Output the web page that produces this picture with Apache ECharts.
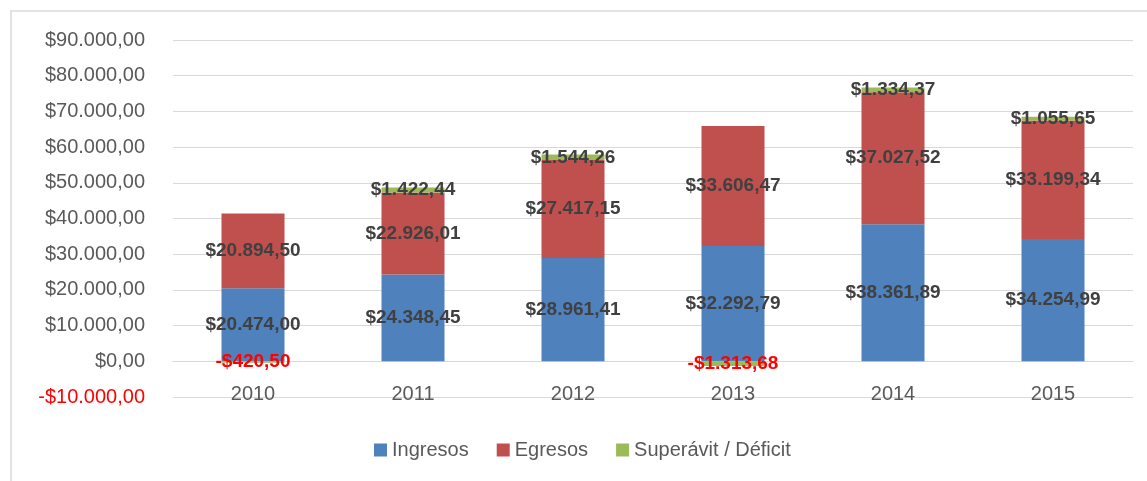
<!DOCTYPE html>
<html>
<head>
<meta charset="utf-8">
<script src="https://cdn.jsdelivr.net/npm/echarts@6/dist/echarts.min.js"></script>
<style>
  html, body { margin: 0; padding: 0; background: #fff; }
  #chart { width: 1147px; height: 481px; }
</style>
</head>
<body>
<div id="chart"></div>
<script>
var years = ['2010', '2011', '2012', '2013', '2014', '2015']
var ingresos = [20474.00, 24348.45, 28961.41, 32292.79, 38361.89, 34254.99]
var egresos = [20894.50, 22926.01, 27417.15, 33606.47, 37027.52, 33199.34]
var superavit = [-420.50, 1422.44, 1544.26, -1313.68, 1334.37, 1055.65]

var FONT = 'Liberation Sans'

// formato $12.345,67
function fmt(v){
    var neg = v < 0
    var parts = Math.abs(v).toFixed(2).split('.')
    var ent = parts[0].replace(/\B(?=(\d{3})+(?!\d))/g, '.')
    return (neg ? '-' : '') + '$' + ent + ',' + parts[1]
}

var labelStyle = {
    show: true,
    position: 'inside',
    color: '#404040',
    fontWeight: 'bold',
    fontSize: 19,
    fontFamily: FONT,
    formatter: (p) => fmt(p.value)
}

var supData = superavit.map((v) => {
    return {
        value: v,
        label: { color: v < 0 ? '#ff0000' : '#404040' }
    }
})

var mychart = echarts.init(document.getElementById('chart'))
mychart.setOption({
    animation: false,
    textStyle: { fontFamily: FONT },
    graphic: [{
        type: 'rect',
        shape: { x: 11, y: 11, width: 1300, height: 600 },
        style: { fill: 'none', stroke: '#d9d9d9', lineWidth: 1.5 }
    }],
    grid: { left: 173, right: 14, top: 40, bottom: 84 },
    legend: {
        left: 369,
        top: 435,
        icon: 'rect',
        itemWidth: 13,
        itemHeight: 13,
        itemGap: 28,
        textStyle: { color: '#595959', fontSize: 20, fontFamily: FONT },
        data: ['Ingresos', 'Egresos', 'Superávit / Déficit']
    },
    xAxis: {
        type: 'category',
        data: years,
        axisLine: { onZero: true, lineStyle: { color: '#d9d9d9' } },
        axisTick: { show: false },
        axisLabel: { color: '#595959', fontSize: 20, margin: -13, fontFamily: FONT }
    },
    yAxis: {
        type: 'value',
        min: -10000,
        max: 90000,
        interval: 10000,
        axisLine: { show: false },
        axisTick: { show: false },
        splitLine: { lineStyle: { color: '#d9d9d9' } },
        axisLabel: {
            margin: 28,
            fontSize: 20,
            color: '#595959',
            fontFamily: FONT,
            formatter: (v) => v < 0 ? '{neg|' + fmt(v) + '}' : fmt(v),
            rich: { neg: { color: '#ff0000', fontSize: 20, fontFamily: FONT } }
        }
    },
    series: [
        {
            name: 'Ingresos', type: 'bar', stack: 'total', barWidth: 63,
            itemStyle: { color: '#4f81bd' },
            label: labelStyle,
            data: ingresos
        },
        {
            name: 'Egresos', type: 'bar', stack: 'total', barWidth: 63,
            itemStyle: { color: '#c0504d' },
            label: labelStyle,
            data: egresos
        },
        {
            name: 'Superávit / Déficit', type: 'bar', stack: 'total', barWidth: 63,
            itemStyle: { color: '#9bbb59' },
            label: labelStyle,
            data: supData
        }
    ]
})
</script>
</body>
</html>
